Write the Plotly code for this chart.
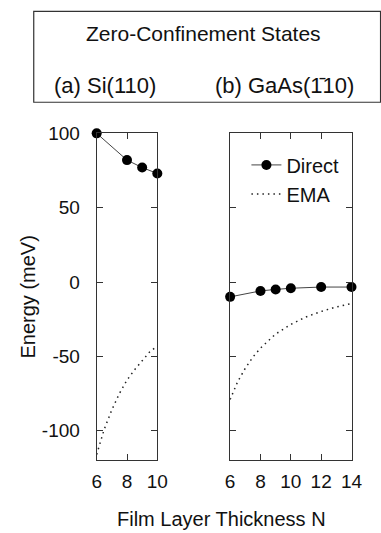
import plotly.graph_objects as go

W, H = 381, 533

# ---- data ----
si_n = [6, 8, 9, 10]
si_direct = [100, 82, 77, 73]
si_ema_n = [6, 6.5, 7, 7.5, 8, 8.5, 9, 9.5, 10]
si_ema = [-116, -99, -86, -75, -66, -59, -53, -47, -43]

gaas_n = [6, 8, 9, 10, 12, 14]
gaas_direct = [-10, -6, -5, -4.2, -3.4, -3.4]
gaas_ema_n = [6, 6.5, 7, 7.5, 8, 9, 10, 11, 12, 13, 14]
gaas_ema = [-79, -67, -58, -50.5, -44.5, -35, -28.5, -23.5, -19.8, -16.8, -14.5]

x1_ticks = [6, 8, 10]
x2_ticks = [6, 8, 10, 12, 14]
y_ticks = [-100, -50, 0, 50, 100]
y_tick_text = ["-100", "-50", "0", "50", "100"]
y_range = [-120, 100]

FONT = "Liberation Sans, Arial, sans-serif"
INK = "#111111"

def px_x(p):
    return p / W

def px_y(p):
    return 1 - p / H

fig = go.Figure()

direct_style = dict(mode="lines+markers", line=dict(color="#444444", width=1),
                    marker=dict(color="black", size=10), cliponaxis=False)
ema_style = dict(mode="lines", line=dict(color="#222222", width=1.5, dash="1.5px,4px"))

fig.add_trace(go.Scatter(x=si_n, y=si_direct, name="Direct", xaxis="x", yaxis="y",
                         showlegend=False, **direct_style))
fig.add_trace(go.Scatter(x=si_ema_n, y=si_ema, name="EMA", xaxis="x", yaxis="y",
                         showlegend=False, **ema_style))
fig.add_trace(go.Scatter(x=gaas_n, y=gaas_direct, name="Direct", xaxis="x2", yaxis="y2",
                         showlegend=True, **direct_style))
fig.add_trace(go.Scatter(x=gaas_ema_n, y=gaas_ema, name="EMA", xaxis="x2", yaxis="y2",
                         showlegend=True, **ema_style))

axis_common = dict(showline=True, linecolor="#333333", linewidth=1, mirror="ticks",
                   ticks="inside", ticklen=6, tickcolor="#333333", tickwidth=1,
                   showgrid=False, zeroline=False,
                   tickfont=dict(family=FONT, size=19, color=INK))

ydom = [px_y(459), px_y(125.7)]
fig.update_layout(
    width=W, height=H,
    margin=dict(l=0, r=0, t=0, b=0),
    paper_bgcolor="white", plot_bgcolor="white",
    font=dict(family=FONT, color=INK),
    xaxis=dict(domain=[px_x(95.7), px_x(159)], range=[6, 10], tickvals=x1_ticks,
               ticklabelstandoff=4, anchor="y", **axis_common),
    yaxis=dict(domain=ydom, range=y_range, tickvals=y_ticks, ticktext=y_tick_text,
               ticklabelstandoff=12, anchor="x", **axis_common),
    xaxis2=dict(domain=[px_x(235), px_x(361.7)], range=[6, 14], tickvals=x2_ticks,
                ticklabelstandoff=4, anchor="y2", **axis_common),
    yaxis2=dict(domain=ydom, range=y_range, tickvals=y_ticks, showticklabels=False,
                anchor="x2", **axis_common),
    showlegend=True,
    legend=dict(x=px_x(252), y=px_y(138), xanchor="left", yanchor="top",
                bgcolor="rgba(0,0,0,0)", font=dict(family=FONT, size=20, color=INK),
                tracegroupgap=0, itemwidth=30),
)

# title box
fig.add_shape(type="rect", xref="paper", yref="paper",
              x0=px_x(30), x1=px_x(392), y0=px_y(94), y1=px_y(1.5),
              line=dict(color="#333333", width=1.2), fillcolor="rgba(0,0,0,0)")

ann = [
    dict(text="Zero-Confinement States", x=px_x(207), y=px_y(24), xanchor="center", size=21),
    dict(text="(a) Si(110)", x=px_x(49), y=px_y(77), xanchor="left", size=22),
    dict(text="(b) GaAs(1\u030410)", x=px_x(217), y=px_y(77), xanchor="left", size=22),
    dict(text="Film Layer Thickness N", x=px_x(226), y=px_y(519), xanchor="center", size=20),
]
for a in ann:
    fig.add_annotation(text=a["text"], x=a["x"], y=a["y"], xref="paper", yref="paper",
                       xanchor=a["xanchor"], yanchor="middle", showarrow=False,
                       font=dict(family=FONT, size=a["size"], color=INK))
fig.add_annotation(text="Energy (meV)", x=px_x(24), y=px_y(292), xref="paper", yref="paper",
                   xanchor="center", yanchor="middle", showarrow=False, textangle=-90,
                   font=dict(family=FONT, size=20, color=INK))

fig.write_html("out.html",
               post_script="document.body.style.margin='0';document.body.style.overflow='hidden';")
